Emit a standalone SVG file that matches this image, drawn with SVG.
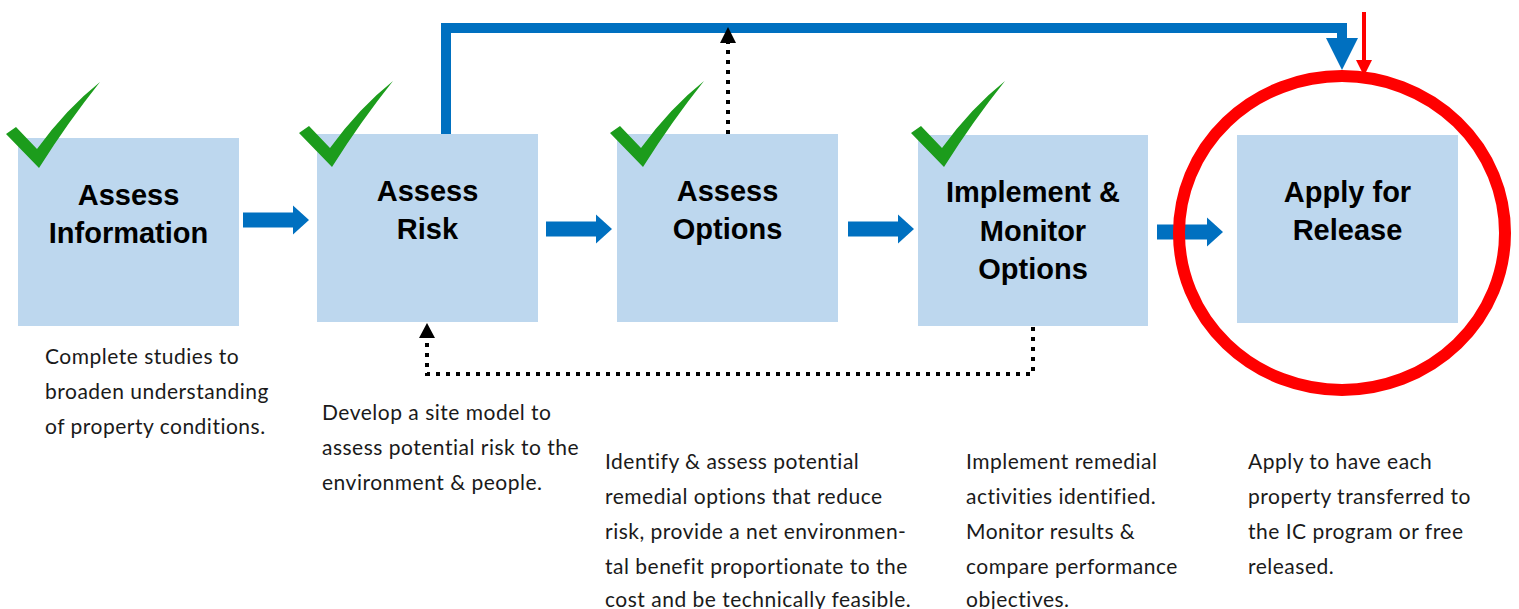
<svg xmlns="http://www.w3.org/2000/svg" width="1519" height="609" viewBox="0 0 1519 609">
<style>
.box{fill:#bdd7ee}
.title{font-family:"Liberation Sans",Arial,sans-serif;font-weight:bold;font-size:29px;fill:#000;text-anchor:middle}
.desc{font-family:Lato,"Open Sans",sans-serif;font-size:21px;letter-spacing:0.5px;fill:#1a1a1a}
.check{fill:#1c9c1c}
.blk{fill:#0070c0}
.dot{fill:none;stroke:#000;stroke-width:4;stroke-dasharray:4 6}
</style>
<defs>
<path id="chk" d="M -32,-33 L -22,-40 L -1,-18 Q 28,-58 62,-85 Q 30,-45 1,1 Z"/>
<path id="blkarrow" d="M 0,-7.5 L 50,-7.5 L 50,-14.5 L 66,0 L 50,14.5 L 50,7.5 L 0,7.5 Z"/>
</defs>
<rect width="1519" height="609" fill="#fff"/>

<g id="connectors">
<use href="#blkarrow" class="blk" x="243" y="220"/>
<use href="#blkarrow" class="blk" x="546" y="229"/>
<use href="#blkarrow" class="blk" x="848" y="229"/>
<use href="#blkarrow" class="blk" x="1157" y="232"/>
<path d="M 446,138 L 446,28 L 1342,28 L 1342,40" fill="none" stroke="#0070c0" stroke-width="10"/>
<path d="M 1326,38 L 1358,38 L 1342,70 Z" fill="#0070c0"/>
<path d="M 728,134 L 728,42" class="dot"/>
<path d="M 720,43 L 736,43 L 728,27 Z" fill="#000"/>
<path d="M 1033,327 L 1033,374 L 427,374 L 427,338" class="dot"/>
<path d="M 419,338 L 435,338 L 427,323 Z" fill="#000"/>
<path d="M 1364,12 L 1364,62" fill="none" stroke="#ff0000" stroke-width="4"/>
<path d="M 1356,60 L 1372,60 L 1364,76 Z" fill="#ff0000"/>
</g>

<g id="node-assess-information">
<rect class="box" x="18" y="138" width="221" height="188"/>
<use href="#chk" class="check" x="38" y="167"/>
<text class="title" x="128.5" y="205">Assess</text>
<text class="title" x="128.5" y="243">Information</text>
<text class="desc" x="45" y="364">Complete studies to</text>
<text class="desc" x="45" y="399">broaden understanding</text>
<text class="desc" x="45" y="434">of property conditions.</text>
</g>

<g id="node-assess-risk">
<rect class="box" x="317" y="134" width="221" height="188"/>
<use href="#chk" class="check" x="331" y="166"/>
<text class="title" x="427.5" y="201">Assess</text>
<text class="title" x="427.5" y="239">Risk</text>
<text class="desc" x="322" y="420">Develop a site model to</text>
<text class="desc" x="322" y="455">assess potential risk to the</text>
<text class="desc" x="322" y="490">environment &amp; people.</text>
</g>

<g id="node-assess-options">
<rect class="box" x="617" y="134" width="221" height="188"/>
<use href="#chk" class="check" x="642" y="166"/>
<text class="title" x="727.5" y="201">Assess</text>
<text class="title" x="727.5" y="239">Options</text>
<text class="desc" x="605" y="469">Identify &amp; assess potential</text>
<text class="desc" x="605" y="504">remedial options that reduce</text>
<text class="desc" x="605" y="539">risk, provide a net environmen-</text>
<text class="desc" x="605" y="574">tal benefit proportionate to the</text>
<text class="desc" x="605" y="607">cost and be technically feasible.</text>
</g>

<g id="node-implement-monitor">
<rect class="box" x="918" y="135" width="230" height="191"/>
<use href="#chk" class="check" x="943" y="166"/>
<text class="title" x="1033" y="202">Implement &amp;</text>
<text class="title" x="1033" y="241">Monitor</text>
<text class="title" x="1033" y="279">Options</text>
<text class="desc" x="966" y="469">Implement remedial</text>
<text class="desc" x="966" y="504">activities identified.</text>
<text class="desc" x="966" y="539">Monitor results &amp;</text>
<text class="desc" x="966" y="574">compare performance</text>
<text class="desc" x="966" y="607">objectives.</text>
</g>

<g id="node-apply-release">
<rect class="box" x="1237" y="135" width="221" height="188"/>
<text class="title" x="1347.5" y="202">Apply for</text>
<text class="title" x="1347.5" y="240">Release</text>
<ellipse cx="1342" cy="233" rx="163" ry="157" fill="none" stroke="#ff0000" stroke-width="12"/>
<text class="desc" x="1248" y="469">Apply to have each</text>
<text class="desc" x="1248" y="504">property transferred to</text>
<text class="desc" x="1248" y="539">the IC program or free</text>
<text class="desc" x="1248" y="574">released.</text>
</g>
</svg>
